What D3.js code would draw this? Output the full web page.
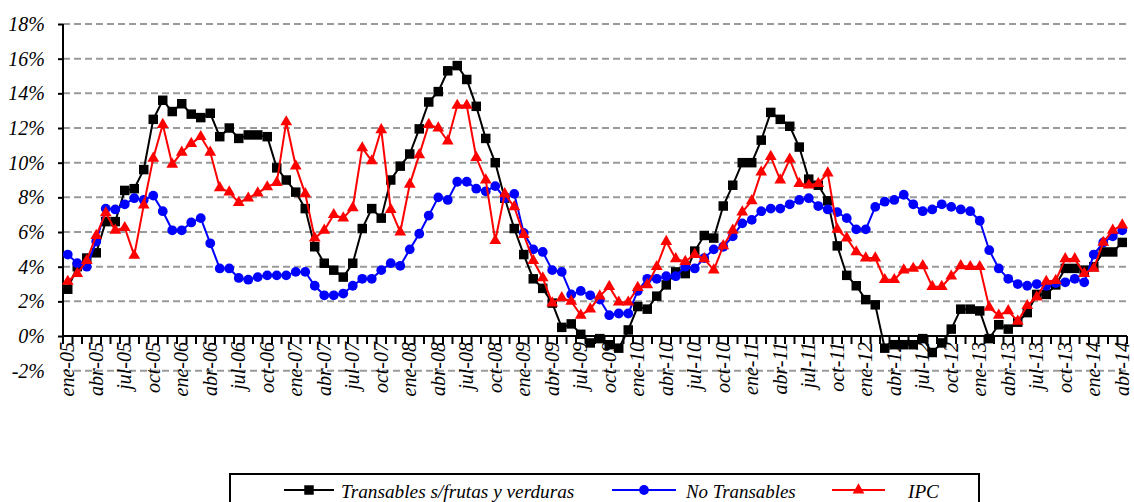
<!DOCTYPE html>
<html>
<head>
<meta charset="utf-8">
<script src="https://cdn.jsdelivr.net/npm/d3@7"></script>
<style>
  body { margin: 0; background: #fff; }
</style>
</head>
<body>
<svg id="chart" width="1134" height="502"></svg>
<script>
// month names and years used for the category labels
const monthNames = ["ene", "feb", "mar", "abr", "may", "jun", "jul", "ago", "sep", "oct", "nov", "dic"];
const years = ["05", "06", "07", "08", "09", "10", "11", "12", "13", "14"];
const categories = [];
years.forEach(yy => monthNames.forEach(m => categories.push(m + "-" + yy)));
categories.splice(categories.indexOf("abr-14") + 1); // ene-05 .. abr-14

const yTicks = [-2, 0, 2, 4, 6, 8, 10, 12, 14, 16, 18];

// Transables s/frutas y verduras (%)
const transables = [
  2.7, 4.0, 4.5, 4.8, 6.6, 6.6, 8.4, 8.5, 9.6, 12.5, 13.6, 12.95,
  13.4, 12.8, 12.6, 12.85, 11.5, 12.0, 11.4, 11.6, 11.6, 11.5, 9.7, 9.0,
  8.3, 7.35, 5.15, 4.2, 3.8, 3.4, 4.2, 6.2, 7.35, 6.8, 9.0, 9.8,
  10.5, 11.95, 13.5, 14.1, 15.3, 15.6, 14.8, 13.25, 11.4, 10.0, 7.95, 6.2,
  4.7, 3.3, 2.75, 1.9, 0.5, 0.7, 0.1, -0.4, -0.15, -0.5, -0.7, 0.35,
  1.7, 1.55, 2.3, 2.95, 3.7, 3.6, 4.9, 5.8, 5.65, 7.5, 8.7, 10.0,
  10.0, 11.3, 12.9, 12.5, 12.1, 10.9, 9.05, 8.7, 7.8, 5.2, 3.5, 2.9,
  2.1, 1.8, -0.7, -0.5, -0.5, -0.5, -0.15, -0.95, -0.4, 0.4, 1.55, 1.55,
  1.45, -0.15, 0.65, 0.4, 0.8, 1.35, 2.4, 2.4, 2.95, 3.9, 3.9, 3.8,
  4.0, 4.85, 4.85, 5.4
];

// No Transables (%)
const noTransables = [
  4.7, 4.2, 4.0, 5.45, 7.35, 7.3, 7.6, 7.95, 7.85, 8.1, 7.2, 6.1,
  6.1, 6.55, 6.8, 5.35, 3.9, 3.9, 3.35, 3.25, 3.4, 3.5, 3.5, 3.5,
  3.7, 3.7, 2.9, 2.35, 2.35, 2.45, 2.9, 3.3, 3.3, 3.8, 4.2, 4.05,
  5.0, 5.9, 6.95, 8.0, 7.85, 8.9, 8.9, 8.5, 8.35, 8.65, 7.95, 8.2,
  5.95, 5.0, 4.85, 3.8, 3.7, 2.4, 2.6, 2.35, 2.1, 1.2, 1.3, 1.3,
  2.6, 3.3, 3.3, 3.45, 3.45, 4.0, 3.9, 4.5, 5.0, 5.15, 5.75, 6.5,
  6.7, 7.2, 7.35, 7.35, 7.6, 7.85, 7.95, 7.5, 7.3, 7.15, 6.8, 6.15,
  6.15, 7.45, 7.75, 7.85, 8.15, 7.6, 7.2, 7.3, 7.6, 7.45, 7.3, 7.2,
  6.65, 4.95, 3.9, 3.3, 3.0, 2.9, 3.0, 2.9, 3.05, 3.1, 3.3, 3.1,
  4.7, 5.4, 5.75, 6.1
];

// IPC (%)
const ipc = [
  3.15, 3.6, 4.35, 5.8, 7.1, 6.1, 6.25, 4.65, 7.55, 10.25, 12.2, 9.9,
  10.6, 11.1, 11.5, 10.6, 8.55, 8.3, 7.7, 7.95, 8.25, 8.6, 8.85, 12.35,
  9.8, 8.2, 5.65, 6.1, 7.0, 6.8, 7.4, 10.85, 10.1, 11.9, 7.3, 6.0,
  8.75, 10.45, 12.2, 12.0, 11.25, 13.3, 13.3, 10.3, 9.0, 5.5, 8.2, 7.45,
  5.85, 4.35, 3.35, 1.9, 2.2, 2.0, 1.2, 1.55, 2.3, 2.85, 1.95, 1.95,
  2.8, 2.95, 4.0, 5.45, 4.45, 4.3, 4.7, 4.45, 3.8, 5.2, 6.1, 7.15,
  7.8, 9.45, 10.35, 9.0, 10.2, 8.8, 8.7, 8.8, 9.4, 6.15, 5.65, 4.85,
  4.5, 4.5, 3.25, 3.25, 3.8, 3.9, 4.05, 2.85, 2.85, 3.45, 4.05, 4.0,
  4.0, 1.65, 1.2, 1.45, 0.85, 1.75, 2.25, 3.15, 3.2, 4.45, 4.45, 3.6,
  3.9, 5.4, 6.1, 6.4
];

const series = [
  { name: "Transables s/frutas y verduras", values: transables, color: "#000000", symbol: d3.symbolSquare, size: 90 },
  { name: "No Transables", values: noTransables, color: "#0000FF", symbol: d3.symbolCircle, size: 75 },
  { name: "IPC", values: ipc, color: "#FF0000", symbol: d3.symbolTriangle, size: 60 }
];

const FONT = "'Liberation Serif', 'Times New Roman', serif";
const serifText = sel => sel
  .style("font-family", FONT)
  .style("font-style", "italic")
  .style("fill", "#000");

const svg = d3.select("#chart");
const plot = { left: 63, right: 1127, top: 24, bottom: 370.7 };

const x = d3.scaleBand().domain(categories).range([plot.left, plot.right]);
const y = d3.scaleLinear().domain([-2, 18]).range([plot.bottom, plot.top]);
const cx = d => x(d) + x.bandwidth() / 2;

// dashed gridlines
svg.append("g")
  .selectAll("line")
  .data(yTicks.filter(t => t !== 0))
  .join("line")
  .attr("x1", plot.left).attr("x2", plot.right)
  .attr("y1", d => y(d)).attr("y2", d => y(d))
  .attr("stroke", "#9a9a9a")
  .attr("stroke-width", 2)
  .attr("stroke-dasharray", "7,4");

// y axis
const yAxis = svg.append("g")
  .attr("transform", `translate(${plot.left},0)`)
  .call(d3.axisLeft(y).tickValues(yTicks).tickSize(5).tickPadding(13).tickFormat(d => d + "%"));
yAxis.select(".domain").remove();
yAxis.selectAll(".tick line").attr("stroke", "#000").attr("stroke-width", 2)
  .filter(d => d < 0).remove();
yAxis.selectAll(".tick text").call(serifText).style("font-size", "20px");
svg.append("line")
  .attr("x1", plot.left).attr("x2", plot.left)
  .attr("y1", y(18)).attr("y2", y(0) + 8)
  .attr("stroke", "#000").attr("stroke-width", 2);

// x axis at 0%
const y0 = y(0);
svg.append("line")
  .attr("x1", plot.left).attr("x2", plot.right)
  .attr("y1", y0).attr("y2", y0)
  .attr("stroke", "#000").attr("stroke-width", 2);
const bounds = categories.map(c => x(c)).concat([plot.right]);
svg.append("g")
  .selectAll("line")
  .data(bounds)
  .join("line")
  .attr("x1", d => d).attr("x2", d => d)
  .attr("y1", y0).attr("y2", y0 + 8)
  .attr("stroke", "#000").attr("stroke-width", 2);

svg.append("g")
  .selectAll("text")
  .data(categories.filter((c, i) => i % 3 === 0))
  .join("text")
  .attr("transform", d => `translate(${cx(d)},${y0 + 6}) rotate(-90)`)
  .attr("text-anchor", "end")
  .attr("dy", "0.33em")
  .call(serifText)
  .style("font-size", "20px")
  .text(d => d);

// series lines + markers
const line = d3.line().x((d, i) => cx(categories[i])).y(d => y(d));
series.forEach(s => {
  const g = svg.append("g");
  g.append("path")
    .attr("d", line(s.values))
    .attr("fill", "none")
    .attr("stroke", s.color)
    .attr("stroke-width", 2);
  g.selectAll("path.mark")
    .data(s.values)
    .join("path")
    .attr("class", "mark")
    .attr("d", d3.symbol().type(s.symbol).size(s.size))
    .attr("transform", (d, i) => `translate(${cx(categories[i])},${y(d)})`)
    .attr("fill", s.color);
});

// legend
const legend = svg.append("g");
legend.append("rect")
  .attr("x", 230).attr("y", 474)
  .attr("width", 749).attr("height", 40)
  .attr("fill", "#fff").attr("stroke", "#000").attr("stroke-width", 2);
const legendItems = [
  { x1: 284, x2: 334, tx: 341, w: 234 },
  { x1: 612, x2: 676, tx: 686, w: 110 },
  { x1: 832, x2: 885, tx: 908, w: 31 }
];
series.forEach((s, i) => {
  const it = legendItems[i], ly = 490;
  legend.append("line")
    .attr("x1", it.x1).attr("x2", it.x2)
    .attr("y1", ly).attr("y2", ly)
    .attr("stroke", s.color).attr("stroke-width", 2);
  legend.append("path")
    .attr("d", d3.symbol().type(s.symbol).size(s.size)())
    .attr("transform", `translate(${(it.x1 + it.x2) / 2},${ly})`)
    .attr("fill", s.color);
  const t = legend.append("text")
    .attr("x", it.tx).attr("y", ly + 8)
    .call(serifText)
    .style("font-size", "20px")
    .text(s.name);
  // fit the label to the width it has in the original
  const len = t.node().getComputedTextLength();
  if (len > 0) t.style("font-size", (20 * it.w / len).toFixed(1) + "px");
});
</script>
</body>
</html>
